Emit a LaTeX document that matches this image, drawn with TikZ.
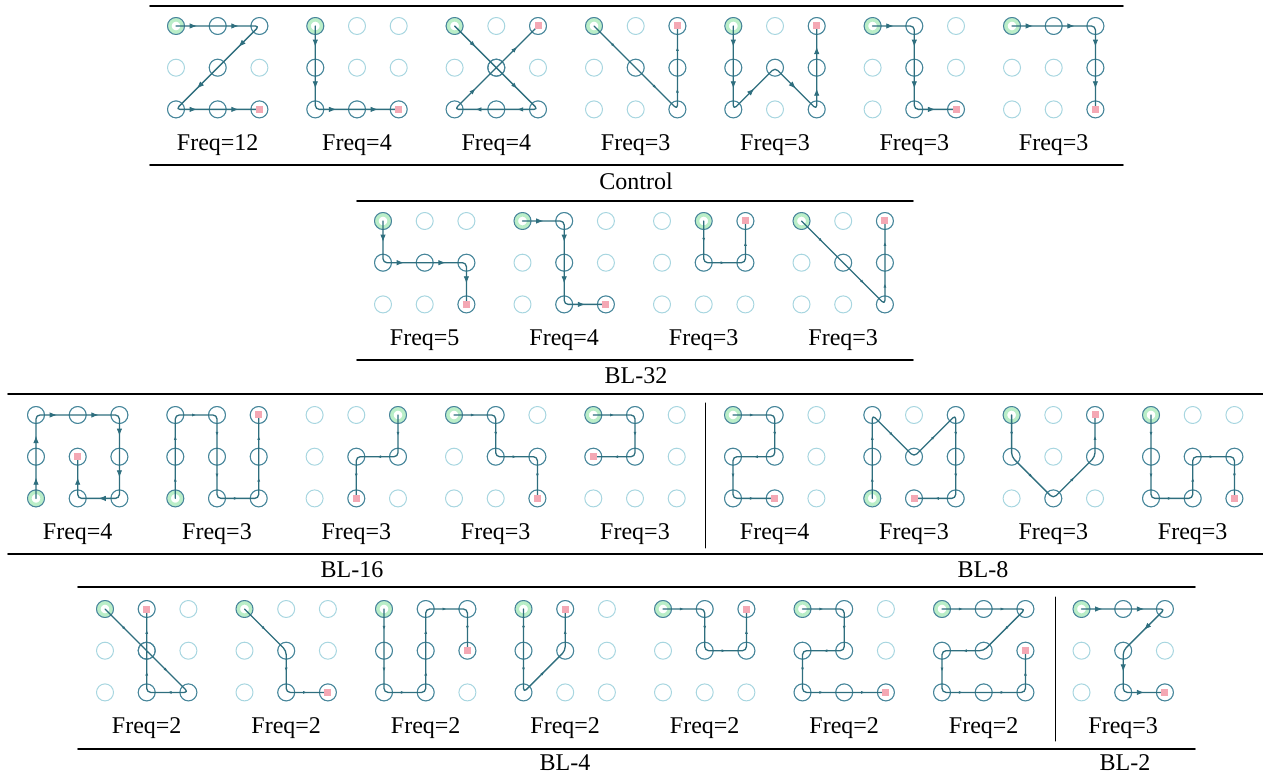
\documentclass[tikz,border=0pt]{standalone}
\usepackage{fontspec}
\setmainfont{Liberation Serif}
\usetikzlibrary{arrows.meta,decorations.markings}
\definecolor{pc}{RGB}{46,110,126}
\definecolor{vc}{RGB}{72,132,152}
\definecolor{uc}{RGB}{168,214,224}
\definecolor{sg}{RGB}{186,238,200}
\definecolor{ec}{RGB}{244,168,180}
\tikzset{
	dot/.style={circle, draw=uc, line width=0.5pt, minimum size=8.5pt, inner sep=0pt},
	vis/.style={circle, draw=vc, line width=0.5pt, minimum size=8.5pt, inner sep=0pt},
	startdot/.style={circle, draw=sg, line width=1.8pt, fill=white, minimum size=6.2pt, inner sep=0pt},
	enddot/.style={rectangle, fill=ec, minimum size=3.5pt, inner sep=0pt},
	pathline/.style={draw=pc, line width=0.65pt, rounded corners=2pt},
	midtip/.style={postaction=decorate, decoration={markings, mark=at position .5 with {\arrow[pc]{Latex[length=#1]}}}},
	freq/.style={font=\fontsize{12}{14}\selectfont, inner sep=1pt},
	rule/.style={line width=0.9pt},
	sep/.style={line width=0.5pt}
}
\def\gs{41.7}
% 3x3 grid: name, x, y of top-left dot, frequency
\newcommand\pgrid[4]{%
	\foreach \i in {0,1,2}{\foreach \j in {0,1,2}{\node[dot] (#1\i\j) at ({#2+\i*\gs},{#3+\j*\gs}) {};}}
	\node[freq] (#1l) at ({#2+\gs},{#3+119.5}) {Freq=#4};
}
% pattern: [tip length] grid, start, middle dots, end
\newcommand\trace[5][2pt]{%
	\node[startdot] at (#2#3) {};
	\foreach \p in {#3,#4,#5} \node[vis] at (#2\p) {};
	\draw[pathline] (#2#3.center) \foreach \p in {#4,#5}{-- (#2\p.center)};
	\foreach \p [remember=\p as \q (initially #3)] in {#4,#5} \path[midtip=#1] (#2\q.center) -- (#2\p.center);
	\node[enddot] at (#2#5) {};
}
\begin{document}
\begin{tikzpicture}[x=0.5pt, y=-0.5pt, line join=round, line cap=round]
	\useasboundingbox (0,0) rectangle (1263,774);
	% Control
	\draw[rule] (150,6) -- (1123,6) (150,165) -- (1123,165);
	\pgrid{c1}{176}{26}{12} \trace[3.6pt]{c1}{00}{10,20,11,02,12}{22}
	\pgrid{c2}{315.3}{26}{4} \trace[3.6pt]{c2}{00}{01,02,12}{22}
	\pgrid{c3}{454.6}{26}{4} \trace[3pt]{c3}{00}{11,22,12,02,11}{20}
	\pgrid{c4}{594}{26}{3} \trace{c4}{00}{11,22,21}{20}
	\pgrid{c5}{733.3}{26}{3} \trace[3.6pt]{c5}{00}{01,02,11,22,21}{20}
	\pgrid{c6}{872.6}{26}{3} \trace[3.6pt]{c6}{00}{10,11,12}{22}
	\pgrid{c7}{1012}{26}{3} \trace[3.6pt]{c7}{00}{10,20,21}{22}
	\node[freq] (ctl) at (636,181) {Control};
	% BL-32
	\draw[rule] (357,201) -- (913,201) (357,360) -- (913,360);
	\pgrid{b1}{383}{221}{5} \trace[3.6pt]{b1}{00}{01,11,21}{22}
	\pgrid{b2}{522.5}{221}{4} \trace[3.6pt]{b2}{00}{10,11,12}{22}
	\pgrid{b3}{662}{221}{3} \trace{b3}{10}{11,21}{20}
	\pgrid{b4}{801.5}{221}{3} \trace{b4}{00}{11,22,21}{20}
	\node[freq] (bl32) at (636,376) {BL-32};
	% BL-16 | BL-8
	\draw[rule] (8,394) -- (1263,394) (8,554) -- (1263,554);
	\draw[sep] (705.5,403) -- (705.5,548);
	\pgrid{s1}{36}{415}{4} \trace[3.6pt]{s1}{02}{01,00,10,20,21,22,12}{11}
	\pgrid{s2}{175.3}{415}{3} \trace{s2}{02}{01,00,10,11,12,22,21}{20}
	\pgrid{s3}{314.6}{415}{3} \trace{s3}{20}{21,11}{12}
	\pgrid{s4}{454}{415}{3} \trace{s4}{00}{10,11,21}{22}
	\pgrid{s5}{593.3}{415}{3} \trace{s5}{00}{10,11}{01}
	\pgrid{e1}{733}{415}{4} \trace{e1}{00}{10,11,01,02}{12}
	\pgrid{e2}{872.3}{415}{3} \trace{e2}{02}{01,00,11,20,21,22}{12}
	\pgrid{e3}{1011.6}{415}{3} \trace{e3}{00}{01,12,21}{20}
	\pgrid{e4}{1151}{415}{3} \trace{e4}{00}{01,02,12,11,21}{22}
	\node[freq] (bl16) at (352,570) {BL-16};
	\node[freq] (bl8) at (983,570) {BL-8};
	% BL-4 | BL-2
	\draw[rule] (78,587) -- (1195,587) (78,749) -- (1195,749);
	\draw[sep] (1055,597) -- (1055,741);
	\pgrid{f1}{105}{609}{2} \trace{f1}{00}{11,22,12,11}{10}
	\pgrid{f2}{244.5}{609}{2} \trace{f2}{00}{11,12}{22}
	\pgrid{f3}{384}{609}{2} \trace{f3}{00}{01,02,12,11,10,20}{21}
	\pgrid{f4}{523.5}{609}{2} \trace{f4}{00}{01,02,11}{10}
	\pgrid{f5}{663}{609}{2} \trace{f5}{00}{10,11,21}{20}
	\pgrid{f6}{802.5}{609}{2} \trace{f6}{00}{10,11,01,02,12}{22}
	\pgrid{f7}{942}{609}{2} \trace{f7}{00}{10,20,11,01,02,12,22}{21}
	\pgrid{t1}{1081.5}{609}{3} \trace[3.6pt]{t1}{00}{10,20,11,12}{22}
	\node[freq] (bl4) at (565,763) {BL-4};
	\node[freq] (bl2) at (1125,763) {BL-2};
\end{tikzpicture}
\end{document}
